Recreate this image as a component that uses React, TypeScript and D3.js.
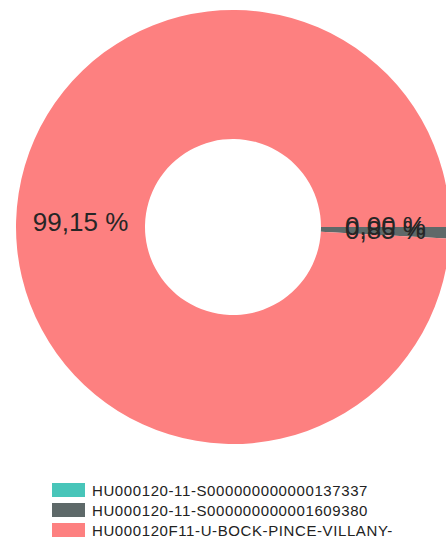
import React, { useRef, useEffect } from "react";
import * as d3 from "d3";

// slice data, in drawing order (clockwise from 3 o'clock)
const labels = [
  "HU000120-11-S000000000000137337",
  "HU000120-11-S000000000001609380",
  "HU000120F11-U-BOCK-PINCE-VILLANY-",
];
const shares = [0.002, 0.85, 99.15];
const colors = ["#48c5b9", "#5e6969", "#fd8080"];

function DonutChart() {
  const svgRef = useRef<SVGSVGElement>(null);

  const svgWidth = 446;
  const svgHeight = 542;
  const cx = 233;
  const cy = 227;
  const outerR = 217;
  const innerR = 88;

  useEffect(() => {
    const svg = d3.select(svgRef.current);
    const data = labels.map((label, i) => ({ label, value: shares[i], color: colors[i] }));

    const pie = d3
      .pie<any>()
      .sort(null)
      .value((d) => d.value)
      .startAngle(Math.PI / 2)
      .endAngle(Math.PI / 2 + Math.PI * 2);

    const arc = d3.arc<any>().innerRadius(innerR).outerRadius(outerR);
    const arcs = pie(data);

    const g = svg.select(".pie").attr("transform", `translate(${cx},${cy})`);

    g.selectAll(".slice")
      .data(arcs)
      .join("path")
      .attr("class", "slice")
      .attr("d", arc)
      .attr("fill", (d) => d.data.color);

    // percentage labels at the centroid of each slice
    const fmt = (v: number) => d3.format(".2f")(v).replace(".", ",") + " %";
    g.selectAll(".label")
      .data(arcs)
      .join("text")
      .attr("class", "label")
      .attr("transform", (d) => `translate(${arc.centroid(d)})`)
      .attr("text-anchor", "middle")
      .attr("dy", "0.3em")
      .attr("font-family", "Liberation Sans, Arial, sans-serif")
      .attr("font-size", "26px")
      .attr("fill", "#262626")
      .text((d) => fmt(d.data.value));

    // legend
    const legend = svg
      .select(".legend")
      .selectAll(".item")
      .data(data)
      .join("g")
      .attr("class", "item")
      .attr("transform", (d, i) => `translate(52,${483 + i * 20})`);

    legend
      .selectAll("rect")
      .data((d) => [d])
      .join("rect")
      .attr("width", 33)
      .attr("height", 14)
      .attr("fill", (d) => d.color);

    legend
      .selectAll("text")
      .data((d) => [d])
      .join("text")
      .attr("x", 40)
      .attr("y", 12.5)
      .attr("font-family", "Liberation Sans, Arial, sans-serif")
      .attr("font-size", "15px")
      .attr("letter-spacing", "0.6px")
      .attr("fill", "#222")
      .text((d) => d.label);
  }, []);

  return (
    <svg
      ref={svgRef}
      width={svgWidth}
      height={svgHeight}
      style={{ position: "absolute", left: 0, top: 0, background: "#fff" }}
    >
      <g className="pie" />
      <g className="legend" />
    </svg>
  );
}

export default function App() {
  return <DonutChart />;
}
